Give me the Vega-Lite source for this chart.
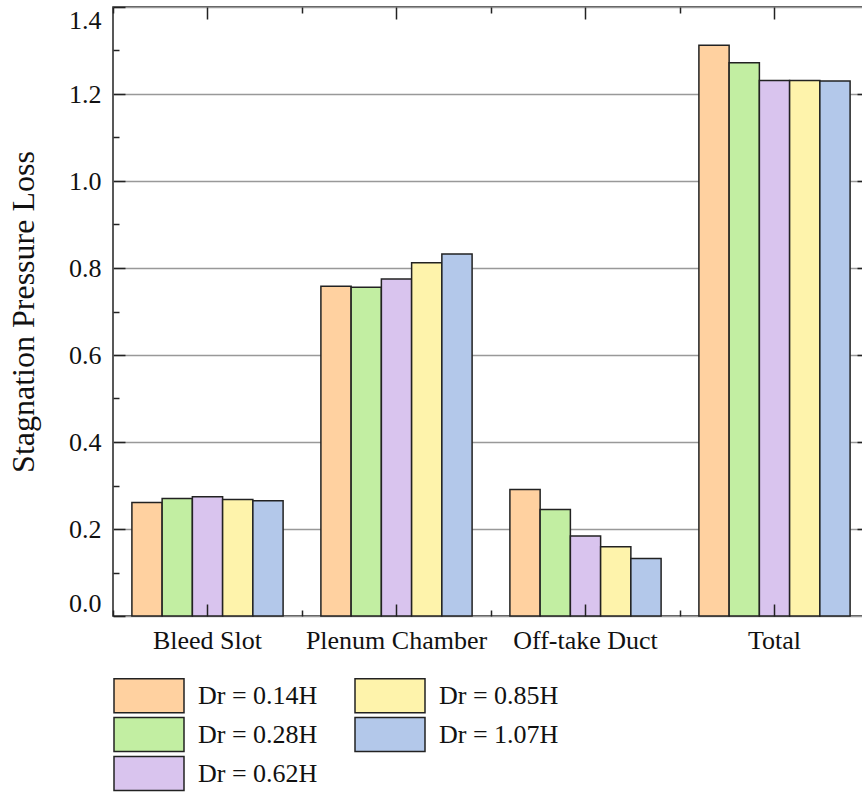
{
  "$schema": "https://vega.github.io/schema/vega-lite/v6.json",
  "width": 756,
  "height": 609,
  "autosize": "none",
  "padding": {"left": 113, "top": 7, "right": 0, "bottom": 177},
  "config": {
    "view": {"stroke": "#222", "strokeWidth": 1.5},
    "font": "Liberation Serif",
    "axis": {
      "tickColor": "#222",
      "tickWidth": 1.5,
      "domain": false,
      "grid": false,
      "labelFont": "Liberation Serif",
      "titleFont": "Liberation Serif",
      "labelColor": "#111",
      "titleColor": "#111"
    },
    "legend": {"labelFont": "Liberation Serif"}
  },
  "data": {
    "values": [
      {"group": "Bleed Slot", "dr": "Dr = 0.14H", "loss": 0.261},
      {"group": "Bleed Slot", "dr": "Dr = 0.28H", "loss": 0.270},
      {"group": "Bleed Slot", "dr": "Dr = 0.62H", "loss": 0.274},
      {"group": "Bleed Slot", "dr": "Dr = 0.85H", "loss": 0.268},
      {"group": "Bleed Slot", "dr": "Dr = 1.07H", "loss": 0.265},
      {"group": "Plenum Chamber", "dr": "Dr = 0.14H", "loss": 0.758},
      {"group": "Plenum Chamber", "dr": "Dr = 0.28H", "loss": 0.756},
      {"group": "Plenum Chamber", "dr": "Dr = 0.62H", "loss": 0.775},
      {"group": "Plenum Chamber", "dr": "Dr = 0.85H", "loss": 0.812},
      {"group": "Plenum Chamber", "dr": "Dr = 1.07H", "loss": 0.832},
      {"group": "Off-take Duct", "dr": "Dr = 0.14H", "loss": 0.291},
      {"group": "Off-take Duct", "dr": "Dr = 0.28H", "loss": 0.245},
      {"group": "Off-take Duct", "dr": "Dr = 0.62H", "loss": 0.184},
      {"group": "Off-take Duct", "dr": "Dr = 0.85H", "loss": 0.159},
      {"group": "Off-take Duct", "dr": "Dr = 1.07H", "loss": 0.132},
      {"group": "Total", "dr": "Dr = 0.14H", "loss": 1.312},
      {"group": "Total", "dr": "Dr = 0.28H", "loss": 1.272},
      {"group": "Total", "dr": "Dr = 0.62H", "loss": 1.231},
      {"group": "Total", "dr": "Dr = 0.85H", "loss": 1.231},
      {"group": "Total", "dr": "Dr = 1.07H", "loss": 1.230}
    ]
  },
  "resolve": {"axis": {"x": "independent", "y": "independent"}},
  "layer": [
    {
      "mark": {"type": "bar", "stroke": "#222", "strokeWidth": 1.5},
      "encoding": {
        "x": {
          "field": "group", "type": "nominal",
          "scale": {"type": "band", "domain": ["Bleed Slot", "Plenum Chamber", "Off-take Duct", "Total"], "paddingInner": 0.2, "paddingOuter": 0.1},
          "axis": {"orient": "bottom", "title": null, "labelAngle": 0, "labelFontSize": 26, "labelLimit": 400, "labelPadding": 23, "tickSize": -12, "bandPosition": 0.5, "zindex": 1}
        },
        "xOffset": {
          "field": "dr", "type": "nominal",
          "scale": {"domain": ["Dr = 0.14H", "Dr = 0.28H", "Dr = 0.62H", "Dr = 0.85H", "Dr = 1.07H"], "paddingInner": 0, "paddingOuter": 0}
        },
        "y": {
          "field": "loss", "type": "quantitative",
          "scale": {"domain": [0, 1.4], "nice": false},
          "axis": {"orient": "left", "values": [0, 0.2, 0.4, 0.6, 0.8, 1.0, 1.2, 1.4], "format": ".1f", "tickSize": -12, "labelPadding": 24, "labelFontSize": 26, "labelFlush": true, "grid": true, "gridColor": "#999", "gridWidth": 1.5, "title": "Stagnation Pressure Loss", "titleFontSize": 32, "titleFontWeight": "normal", "titlePadding": 28, "zindex": 0}
        },
        "color": {
          "field": "dr", "type": "nominal",
          "scale": {
            "domain": ["Dr = 0.14H", "Dr = 0.28H", "Dr = 0.62H", "Dr = 0.85H", "Dr = 1.07H"],
            "range": ["#FFD1A0", "#C2EEA2", "#D9C4EE", "#FEF3AB", "#B3C8EA"]
          },
          "legend": {
            "orient": "none", "legendX": 17.5, "legendY": 670, "columns": 2, "title": null,
            "symbolType": "M-2,-0.97H2V0.97H-2Z", "symbolSize": 1225,
            "symbolStrokeColor": "#222", "symbolStrokeWidth": 1.5, "symbolOpacity": 1,
            "labelFontSize": 26, "labelOffset": 30.5, "labelColor": "#111",
            "rowPadding": -3.7, "columnPadding": 34
          }
        }
      }
    },
    {
      "mark": {"type": "bar", "opacity": 0},
      "encoding": {
        "x": {
          "field": "group", "type": "nominal",
          "scale": {"type": "band", "domain": ["Bleed Slot", "Plenum Chamber", "Off-take Duct", "Total"], "paddingInner": 0.2, "paddingOuter": 0.1},
          "axis": {"orient": "top", "title": null, "labels": false, "tickSize": -12, "bandPosition": 0.5, "zindex": 1}
        },
        "y": {
          "field": "loss", "type": "quantitative",
          "scale": {"domain": [0, 1.4], "nice": false},
          "axis": {"orient": "right", "values": [0.2, 0.4, 0.6, 0.8, 1.0, 1.2], "labels": false, "tickSize": -12, "title": null}
        }
      }
    },
    {
      "mark": {"type": "bar", "opacity": 0},
      "encoding": {
        "x": {
          "field": "group", "type": "nominal",
          "scale": {"type": "band", "domain": ["Bleed Slot", "Plenum Chamber", "Off-take Duct", "Total"], "paddingInner": 0.2, "paddingOuter": 0.1},
          "axis": {"orient": "bottom", "title": null, "labels": false, "tickSize": -6, "bandPosition": 0, "tickOffset": -18.9, "zindex": 1}
        },
        "y": {
          "field": "loss", "type": "quantitative",
          "scale": {"domain": [0, 1.4], "nice": false},
          "axis": {"orient": "left", "values": [0.1, 0.3, 0.5, 0.7, 0.9, 1.1, 1.3], "labels": false, "tickSize": -6, "title": null}
        }
      }
    },
    {
      "mark": {"type": "bar", "opacity": 0},
      "encoding": {
        "x": {
          "field": "group", "type": "nominal",
          "scale": {"type": "band", "domain": ["Bleed Slot", "Plenum Chamber", "Off-take Duct", "Total"], "paddingInner": 0.2, "paddingOuter": 0.1},
          "axis": {"orient": "top", "title": null, "labels": false, "tickSize": -6, "bandPosition": 0, "tickOffset": -18.9, "zindex": 1}
        },
        "y": {
          "field": "loss", "type": "quantitative",
          "scale": {"domain": [0, 1.4], "nice": false},
          "axis": {"orient": "right", "values": [0.1, 0.3, 0.5, 0.7, 0.9, 1.1, 1.3], "labels": false, "tickSize": -6, "title": null}
        }
      }
    }
  ]
}
